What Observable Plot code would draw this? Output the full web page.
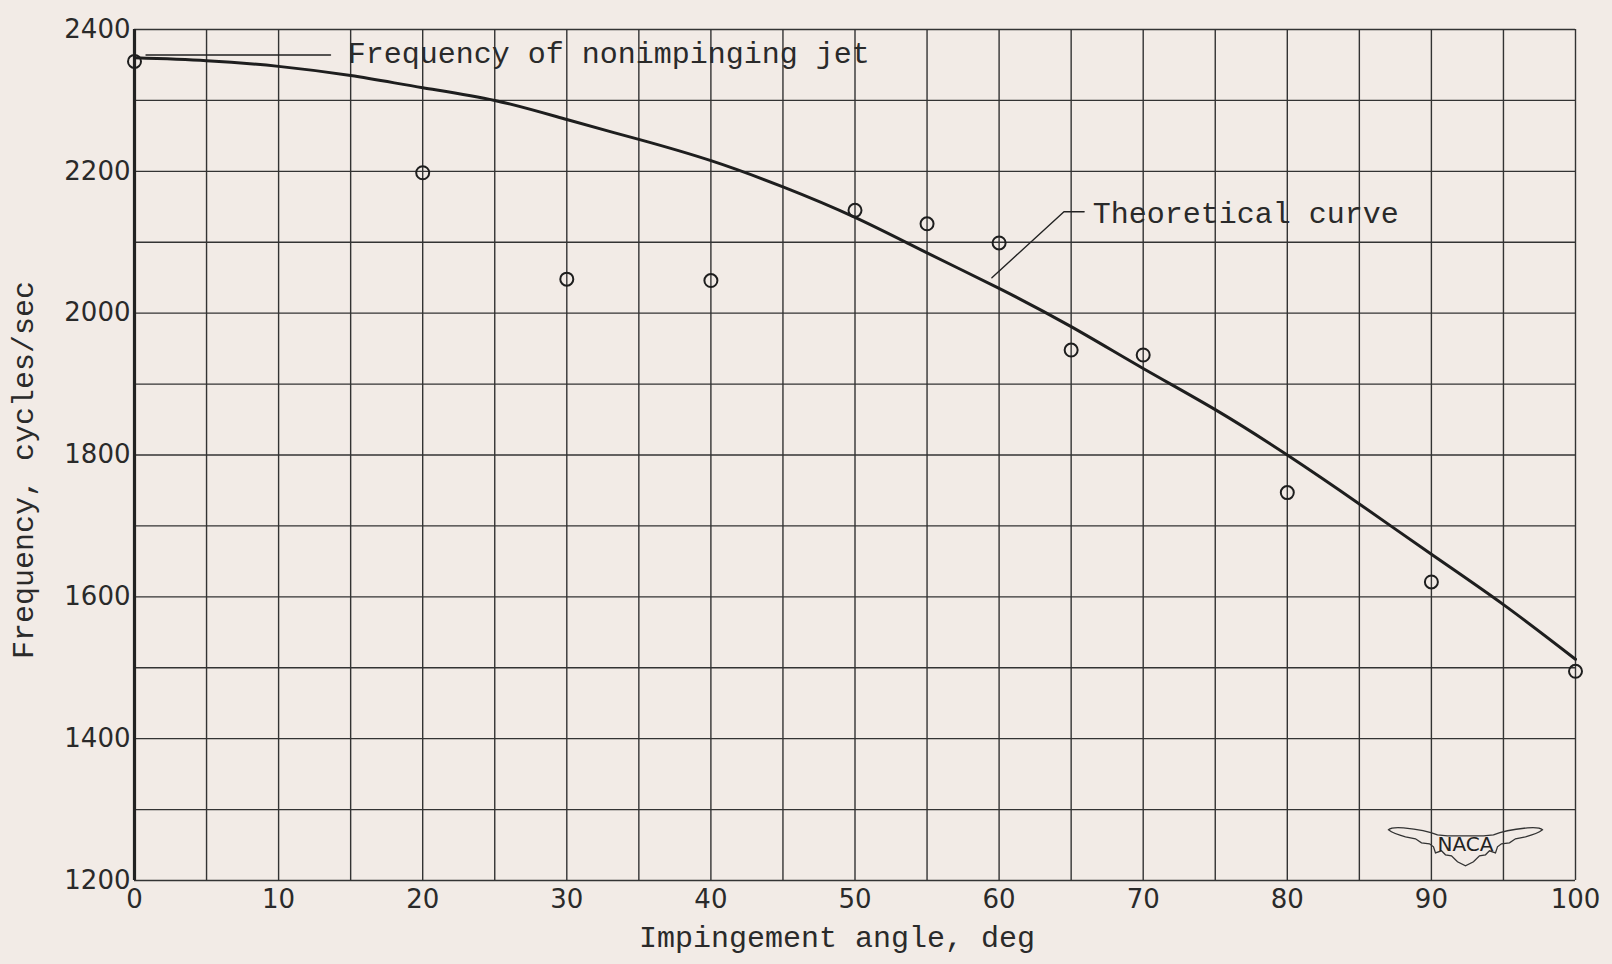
<!DOCTYPE html>
<html><head><meta charset="utf-8">
<script src="https://cdn.jsdelivr.net/npm/d3@7"></script>
<script src="https://cdn.jsdelivr.net/npm/@observablehq/plot@0.6"></script>
<style>
html,body{margin:0;padding:0;background:#f2ebe6;}
#chart svg{display:block;}
</style></head><body><div id="chart"></div>
<script>
// Measured points (impingement angle, deg -> frequency, cycles/sec)
const pointAngles = [0, 20, 30, 40, 50, 55, 60, 65, 70, 80, 90, 100];
const pointFreqs  = [2355, 2198, 2048, 2046, 2145, 2126, 2099, 1948, 1941, 1747, 1621, 1495];

// Theoretical curve
const curveAngles = [0, 5, 10, 15, 20, 25, 30, 35, 40, 45, 50, 55, 60, 65, 70, 75, 80, 85, 90, 95, 100];
const curveFreqs  = [2360, 2356, 2348, 2335, 2318, 2300, 2273, 2245, 2215, 2178, 2135, 2085, 2035, 1981, 1922, 1864, 1800, 1731, 1660, 1589, 1512];

// Ticks and grid
const xTickLabels = [0, 10, 20, 30, 40, 50, 60, 70, 80, 90, 100];
const yTickLabels = [1200, 1400, 1600, 1800, 2000, 2200, 2400];
const xGrid = [0, 5, 10, 15, 20, 25, 30, 35, 40, 45, 50, 55, 60, 65, 70, 75, 80, 85, 90, 95, 100];
const yGrid = [1200, 1300, 1400, 1500, 1600, 1700, 1800, 1900, 2000, 2100, 2200, 2300, 2400];

// Annotations
const labelTexts = ["Frequency of nonimpinging jet", "Theoretical curve"];
const labelAngles = [14.8, 66.5];
const labelFreqs = [2366, 2141];
const leaderNonimpX = [0.8, 13.6];
const leaderNonimpY = [2364, 2364];
const leaderTheoX = [59.5, 64.5, 65.9];
const leaderTheoY = [2050, 2143, 2143];

const points = pointAngles.map((a, i) => ({angle: a, freq: pointFreqs[i]}));
const curve = curveAngles.map((a, i) => ({angle: a, freq: curveFreqs[i]}));
const labels = labelTexts.map((t, i) => ({text: t, angle: labelAngles[i], freq: labelFreqs[i]}));
const leader1 = leaderNonimpX.map((a, i) => ({angle: a, freq: leaderNonimpY[i]}));
const leader2 = leaderTheoX.map((a, i) => ({angle: a, freq: leaderTheoY[i]}));

const ink = "#2a2a2a";
const mono = "'Liberation Mono', 'DejaVu Sans Mono', monospace";

const plot = Plot.plot({
  width: 1612,
  height: 964,
  marginLeft: 134,
  marginRight: 37,
  marginTop: 29,
  marginBottom: 84,
  style: {background: "#f2ebe6", color: ink, fontFamily: "'DejaVu Sans', sans-serif", fontSize: "26px", overflow: "visible"},
  x: {domain: [0, 100]},
  y: {domain: [1200, 2400]},
  marks: [
    Plot.ruleX(xGrid, {stroke: "#333", strokeWidth: 1.4}),
    Plot.ruleY(yGrid, {stroke: "#333", strokeWidth: 1.4}),
    Plot.ruleX([0], {stroke: "#222", strokeWidth: 3.2}),
    Plot.axisX({ticks: xTickLabels, tickSize: 0, tickPadding: 9, label: null, fontSize: 26, tickFormat: d => String(d)}),
    Plot.axisY({ticks: yTickLabels, tickSize: 0, tickPadding: 4, label: null, fontSize: 26, tickFormat: d => String(d)}),
    Plot.line(curve, {x: "angle", y: "freq", curve: "natural", stroke: "#1e1e1e", strokeWidth: 3}),
    Plot.dot(points, {x: "angle", y: "freq", r: 6.5, stroke: "#1e1e1e", strokeWidth: 2, fill: "none"}),
    Plot.line(leader1, {x: "angle", y: "freq", stroke: "#222", strokeWidth: 1.4}),
    Plot.line(leader2, {x: "angle", y: "freq", stroke: "#222", strokeWidth: 1.4}),
    Plot.text(labels, {x: "angle", y: "freq", text: "text", textAnchor: "start", fontFamily: mono, fontSize: 30, fill: ink}),
    Plot.text(["Impingement angle, deg"], {frameAnchor: "bottom", textAnchor: "middle", dy: 66, dx: -18, fontFamily: mono, fontSize: 30, fill: ink}),
    Plot.text(["Frequency, cycles/sec"], {frameAnchor: "left", textAnchor: "middle", dx: -111, dy: 15, rotate: -90, fontFamily: mono, fontSize: 30, fill: ink})
  ]
});

// NACA wing logo (decoration) placed via the scales
const sx = plot.scale("x"), sy = plot.scale("y");
const cx = sx.apply(92.4), cy = sy.apply(1251);
const svgNS = "http://www.w3.org/2000/svg";
const g = document.createElementNS(svgNS, "g");
g.setAttribute("transform", `translate(${cx},${cy})`);
const path = document.createElementNS(svgNS, "path");
path.setAttribute("d", "M-77,-14 Q-74,-17 -62,-16 Q-40,-14 -28,-9 L-18,-8 L18,-8 L28,-9 Q40,-14 62,-16 Q74,-17 77,-14 Q72,-10 60,-7 L50,-5 L44,-1 L36,0 L32,3 L30,9 L24,7 L20,11 L14,12 L8,18 L0,22 L-8,18 L-14,12 L-20,11 L-24,7 L-30,9 L-32,3 L-36,0 L-44,-1 L-50,-5 L-60,-7 Q-72,-10 -77,-14 Z");
path.setAttribute("fill", "none");
path.setAttribute("stroke", "#333");
path.setAttribute("stroke-width", "1.3");
g.appendChild(path);
const t = document.createElementNS(svgNS, "text");
t.setAttribute("text-anchor", "middle");
t.setAttribute("dy", "0.36em");
t.setAttribute("font-family", "'DejaVu Sans', sans-serif");
t.setAttribute("font-size", "20");
t.setAttribute("fill", "#222");
t.textContent = "NACA";
g.appendChild(t);
plot.appendChild(g);

document.getElementById("chart").appendChild(plot);
</script>
</body></html>
